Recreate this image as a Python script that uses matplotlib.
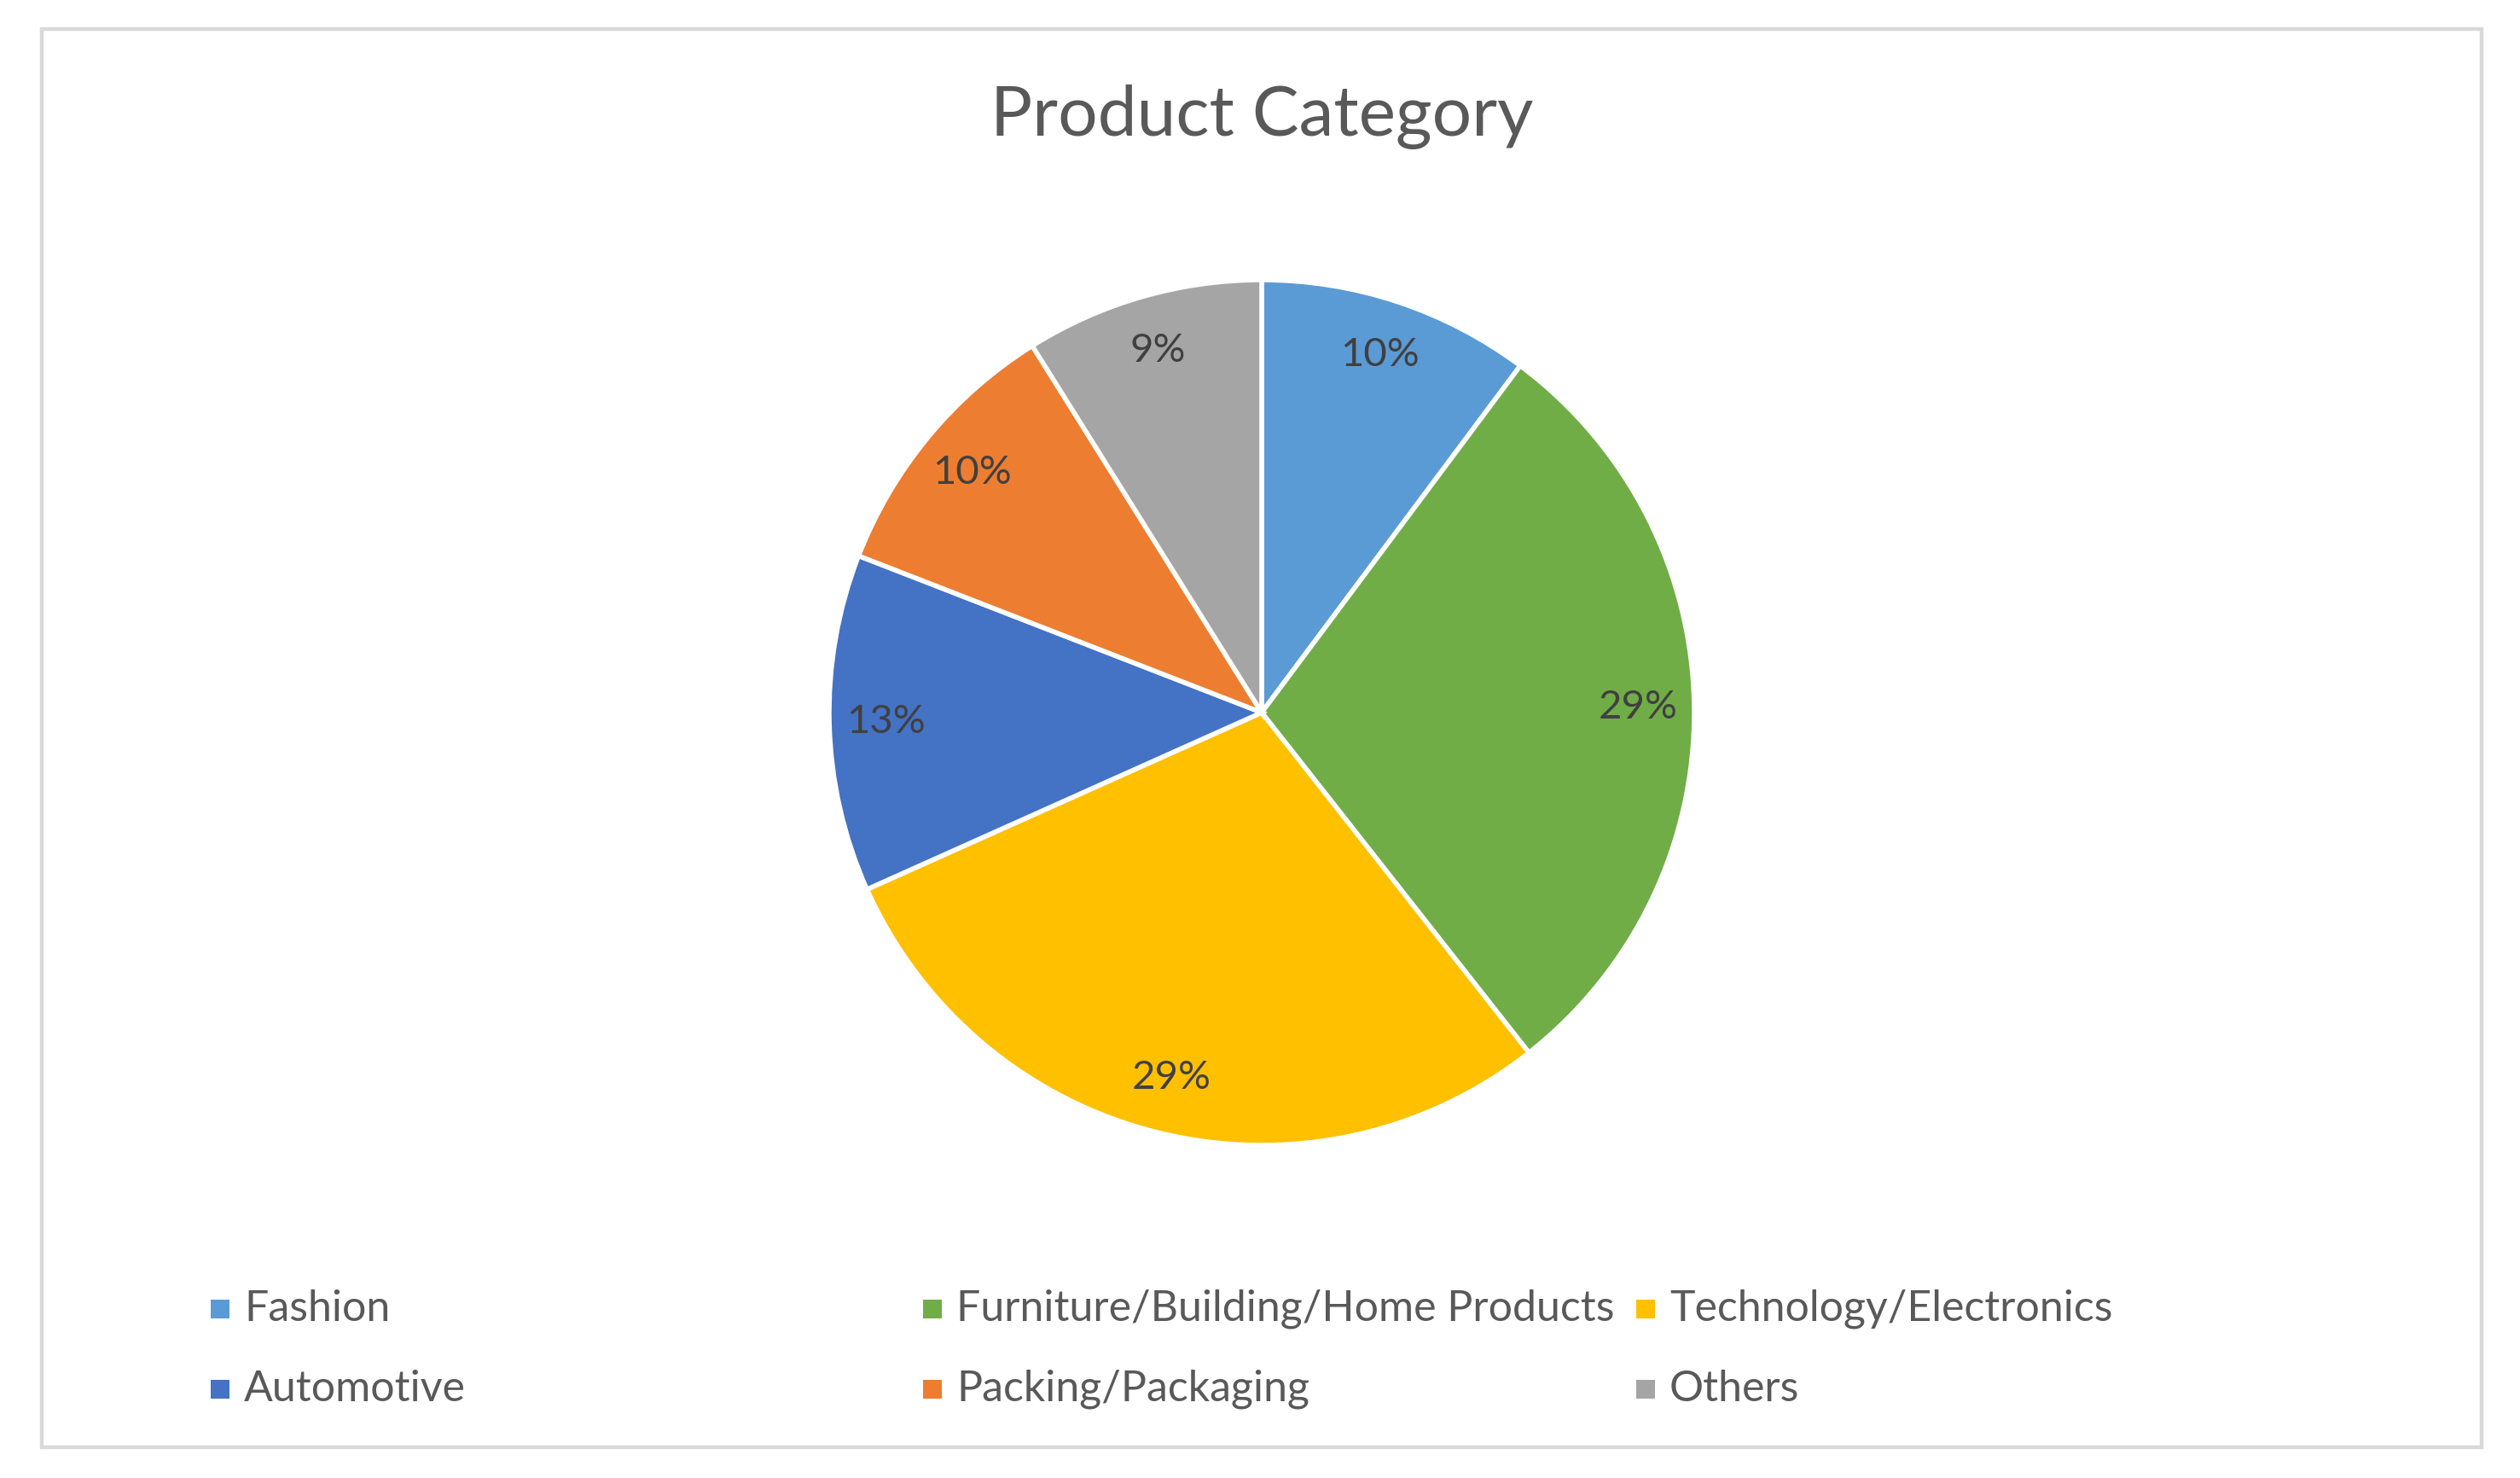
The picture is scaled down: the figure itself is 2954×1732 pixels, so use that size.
import matplotlib.pyplot as plt
from matplotlib.patches import Rectangle

categories = ["Fashion", "Furniture/Building/Home Products", "Technology/Electronics",
              "Automotive", "Packing/Packaging", "Others"]
shares = [10.2, 29.2, 28.9, 12.6, 10.2, 8.9]
colors = ["#5B9BD5", "#70AD47", "#FFC000", "#4472C4", "#ED7D31", "#A5A5A5"]

plt.rcParams['font.family'] = ['Lato', 'DejaVu Sans']
txt = "#595959"

W, H = 2954, 1732
fig = plt.figure(figsize=(W / 200, H / 200), dpi=200)

# outer chart frame
fig.patches.append(Rectangle((49 / W, 1 - 1696 / H), (2909 - 49) / W, (1696 - 34) / H,
                             transform=fig.transFigure, fill=False,
                             edgecolor="#D9D9D9", linewidth=1.6))

fig.text(1479 / W, 1 - 137 / H, "Product Category", ha="center", va="center",
         fontsize=29.5, color=txt)

cx, cy, r = 1479, 835, 507
ax = fig.add_axes([(cx - r) / W, (H - cy - r) / H, 2 * r / W, 2 * r / H])
ax.pie(shares, colors=colors, startangle=90, counterclock=False,
       autopct="%.0f%%", pctdistance=0.87,
       wedgeprops=dict(edgecolor="white", linewidth=2),
       textprops=dict(fontsize=17, color="#404040"))
ax.set_xlim(-1, 1)
ax.set_ylim(-1, 1)
ax.set_aspect("equal")
ax.axis("off")

# legend, laid out like the spreadsheet one
col_x = [258, 1093, 1929]
row_y = [1534, 1628]
for i, name in enumerate(categories):
    x = col_x[i % 3]
    y = row_y[i // 3]
    fig.patches.append(Rectangle(((x - 11) / W, 1 - (y + 11) / H), 22 / W, 22 / H,
                                 transform=fig.transFigure, facecolor=colors[i],
                                 edgecolor="none"))
    fig.text((x + 28) / W, 1 - y / H, name, ha="left", va="center",
             fontsize=18, color=txt)

fig.savefig("out.png", dpi=200, facecolor="white")
